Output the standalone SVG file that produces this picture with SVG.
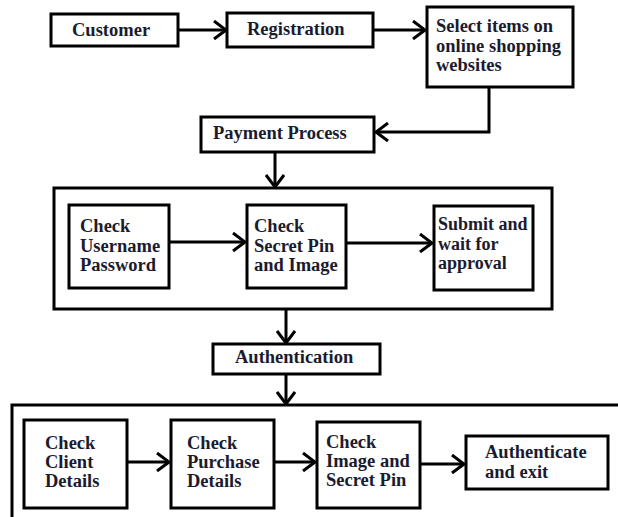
<svg xmlns="http://www.w3.org/2000/svg" width="618" height="517" viewBox="0 0 618 517">
<style>
.box{fill:#fff;stroke:#000;stroke-width:3}
.frame{fill:none;stroke:#000;stroke-width:3}
.t{font-family:"Liberation Serif","Times New Roman",serif;font-weight:bold;font-size:18.5px;fill:#1b1b30}
.c{fill:none;stroke:#000;stroke-width:3}
</style>
<defs>
<marker id="ah" viewBox="0 0 14 20" refX="13" refY="10" markerWidth="14" markerHeight="20" markerUnits="userSpaceOnUse" orient="auto">
<path d="M1,1 L13,10 L1,19" fill="none" stroke="#000" stroke-width="3"/>
</marker>
</defs>
<rect width="618" height="517" fill="#fff"/>
<g id="frame1"><rect class="frame" x="54" y="188" width="498" height="121"/></g>
<g id="frame2"><path class="frame" d="M12,517 V405 H618"/></g>
<g id="connectors">
<path class="c" d="M178,30 H226" marker-end="url(#ah)"/>
<path class="c" d="M373,30 H425" marker-end="url(#ah)"/>
<path class="c" d="M489,87 V132 H376" marker-end="url(#ah)"/>
<path class="c" d="M275,152 V187" marker-end="url(#ah)"/>
<path class="c" d="M169,242 H245" marker-end="url(#ah)"/>
<path class="c" d="M346,243 H432" marker-end="url(#ah)"/>
<path class="c" d="M286,309 V343" marker-end="url(#ah)"/>
<path class="c" d="M286,374 V404" marker-end="url(#ah)"/>
<path class="c" d="M127,462 H169" marker-end="url(#ah)"/>
<path class="c" d="M274,462 H315" marker-end="url(#ah)"/>
<path class="c" d="M420,464 H464" marker-end="url(#ah)"/>
</g>
<g id="customer"><rect class="box" x="51" y="14" width="127" height="32"/><text class="t" x="72" y="36">Customer</text></g>
<g id="registration"><rect class="box" x="227" y="13" width="146" height="34"/><text class="t" x="247" y="35">Registration</text></g>
<g id="select"><rect class="box" x="427" y="7" width="146" height="80"/><text class="t" x="436" y="32">Select items on</text><text class="t" x="436" y="52">online shopping</text><text class="t" x="436" y="71">websites</text></g>
<g id="payment"><rect class="box" x="201" y="117" width="173" height="35"/><text class="t" x="213" y="139">Payment Process</text></g>
<g id="username"><rect class="box" x="69" y="205" width="100" height="83"/><text class="t" x="80" y="232">Check</text><text class="t" x="80" y="252">Username</text><text class="t" x="80" y="271">Password</text></g>
<g id="secretpin"><rect class="box" x="247" y="205" width="99" height="83"/><text class="t" x="254" y="232">Check</text><text class="t" x="254" y="252">Secret Pin</text><text class="t" x="254" y="271">and Image</text></g>
<g id="submit"><rect class="box" x="434" y="206" width="99" height="84"/><text class="t" x="438" y="230" style="font-size:18px">Submit and</text><text class="t" x="438" y="250" style="font-size:18px">wait for</text><text class="t" x="438" y="269" style="font-size:18px">approval</text></g>
<g id="authentication"><rect class="box" x="213" y="344" width="167" height="30"/><text class="t" x="235" y="363">Authentication</text></g>
<g id="client"><rect class="box" x="24" y="420" width="103" height="88"/><text class="t" x="45" y="449">Check</text><text class="t" x="45" y="468">Client</text><text class="t" x="45" y="487">Details</text></g>
<g id="purchase"><rect class="box" x="171" y="420" width="103" height="88"/><text class="t" x="187" y="449">Check</text><text class="t" x="187" y="468">Purchase</text><text class="t" x="187" y="487">Details</text></g>
<g id="image"><rect class="box" x="317" y="422" width="103" height="86"/><text class="t" x="326" y="448">Check</text><text class="t" x="326" y="467">Image and</text><text class="t" x="326" y="486">Secret Pin</text></g>
<g id="authexit"><rect class="box" x="466" y="436" width="142" height="53"/><text class="t" x="485" y="458">Authenticate</text><text class="t" x="485" y="478">and exit</text></g>
</svg>
